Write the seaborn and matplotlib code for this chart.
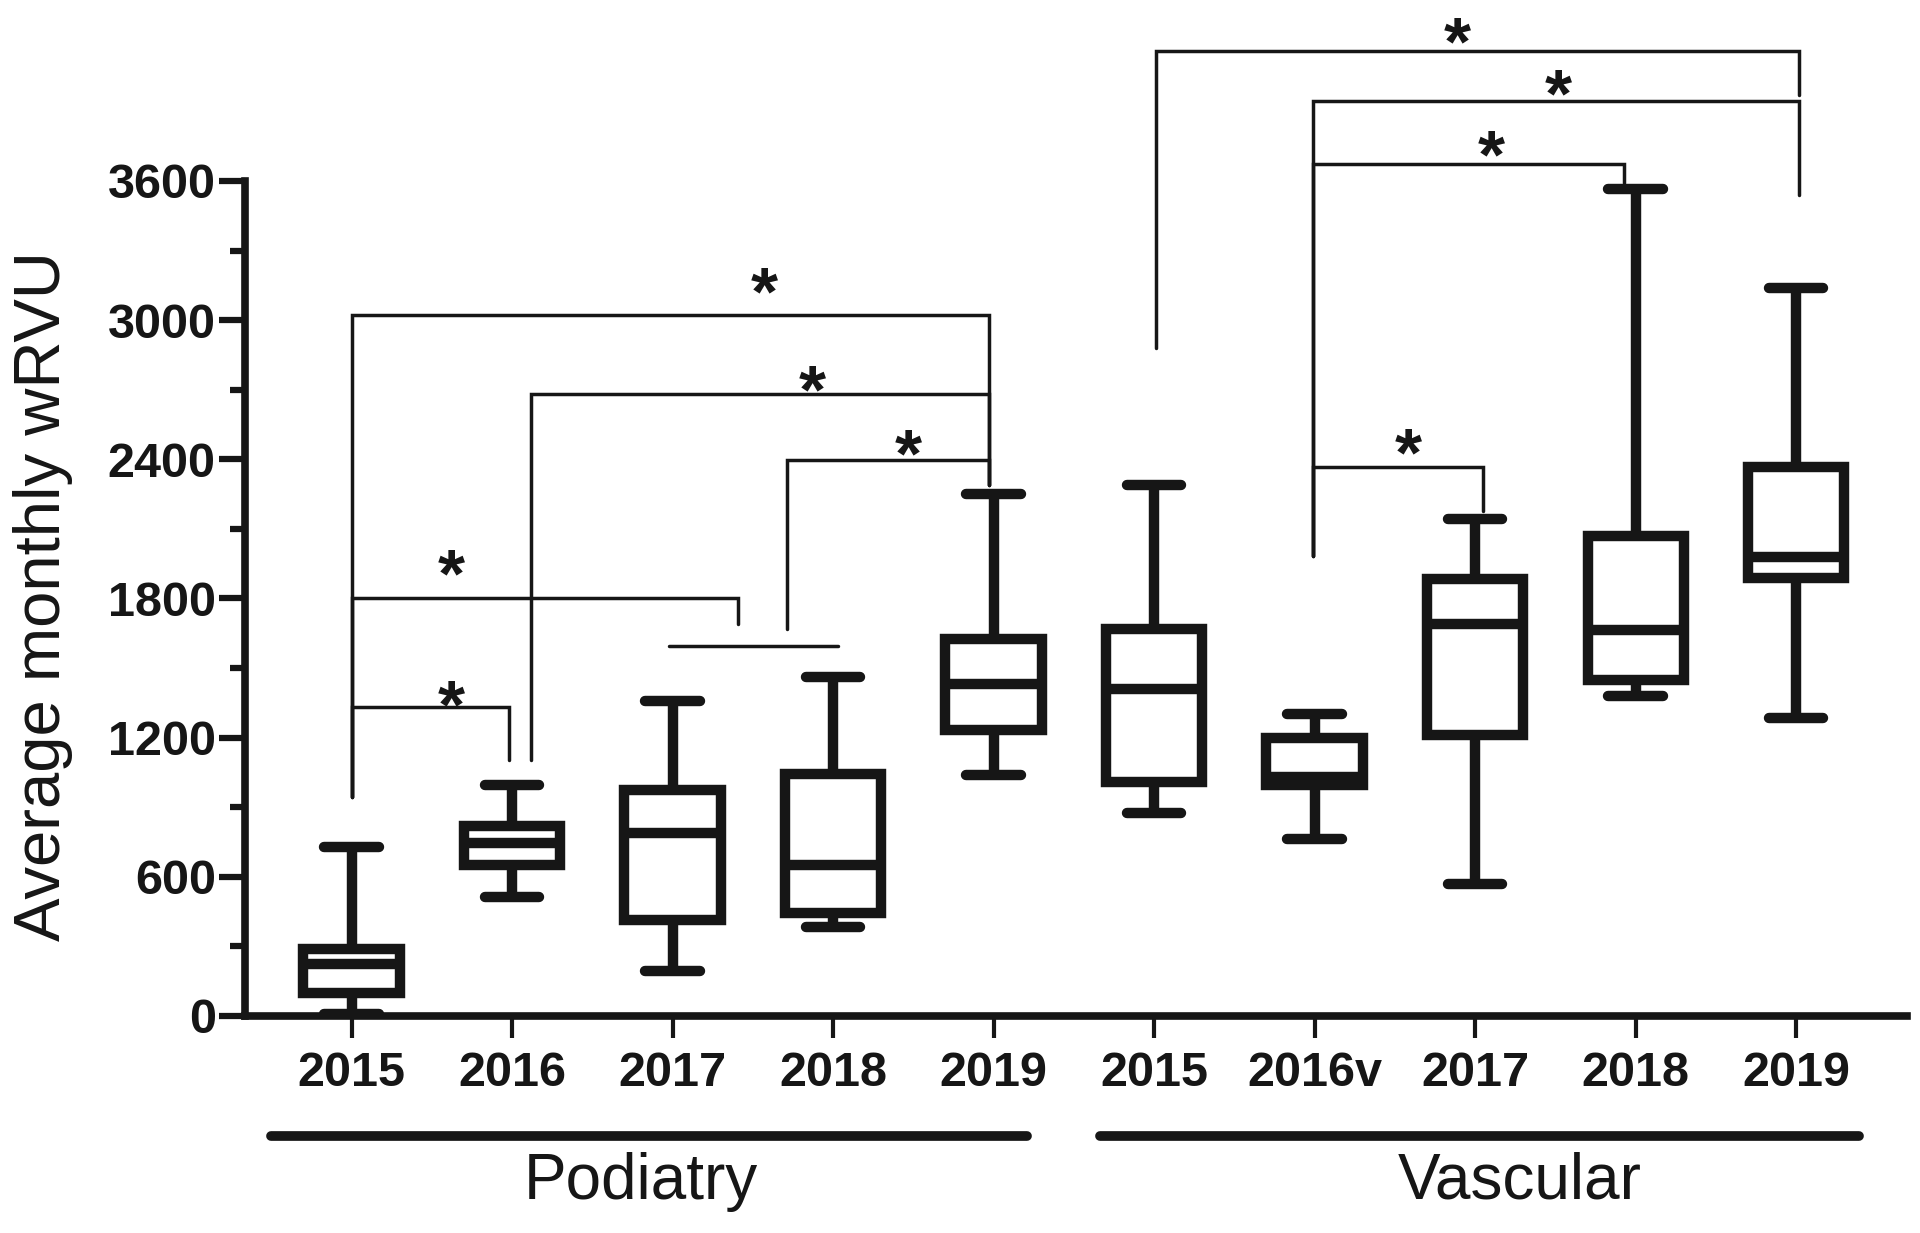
import numpy as np
import pandas as pd
import matplotlib.pyplot as plt
import seaborn as sns
from matplotlib.ticker import FixedLocator

# five-number summaries (min, q1, median, q3, max)
groups = ['P2015', 'P2016', 'P2017', 'P2018', 'P2019',
          'V2015', 'V2016v', 'V2017', 'V2018', 'V2019']
tick_labels = ['2015', '2016', '2017', '2018', '2019',
               '2015', '2016v', '2017', '2018', '2019']
mins = [10, 515, 195, 385, 1040, 875, 763, 570, 1380, 1285]
q1s = [100, 650, 415, 445, 1235, 1010, 994, 1212, 1450, 1888]
medians = [225, 745, 790, 650, 1430, 1408, 1030, 1690, 1665, 1978]
q3s = [290, 820, 975, 1045, 1625, 1670, 1197, 1885, 2070, 2368]
maxs = [730, 995, 1360, 1460, 2250, 2288, 1300, 2141, 3565, 3140]

# significance brackets (category index for x, wRVU for y)
bracket_x0 = [0.0, 0.0, 0.0, 1.12, 2.71, 1.98, 5.01, 5.99, 5.99, 5.99]
bracket_x1 = [0.98, 2.41, 3.97, 3.97, 3.97, 3.03, 9.02, 9.02, 7.93, 7.05]
bracket_top = [1333, 1800, 3020, 2680, 2395, 1596, 4160, 3945, 3673, 2367]
bracket_left_end = [946, 946, 946, 1105, 1670, 1596, 2880, 1985, 1985, 1985]
bracket_right_end = [1105, 1690, 2290, 2290, 2290, 1596, 3970, 3540, 3590, 2175]
star_x = [0.62, 0.62, 2.57, 2.87, 3.47, 6.89, 7.52, 7.10, 6.58]
star_y = [1415, 1980, 3194, 2771, 2497, 4272, 4050, 3785, 2502]

# group bars under the axis
group_names = ['Podiatry', 'Vascular']
group_start = [-0.50, 4.66]
group_end = [4.21, 9.39]
group_label_x = [1.80, 7.28]

rows = []
for g, a, b, c, d, e in zip(groups, mins, q1s, medians, q3s, maxs):
    for v in (a, b, c, d, e):
        rows.append({'group': g, 'value': v})
df = pd.DataFrame(rows)

sns.set_style('ticks')
plt.rcParams['font.family'] = ['Liberation Sans', 'DejaVu Sans']
ink = '#161616'

fig = plt.figure(figsize=(19.2, 12.33), dpi=100)
ax = fig.add_axes([0.1276, 0.176, 0.8656, 0.824])

sns.boxplot(data=df, x='group', y='value', order=groups, ax=ax,
            whis=(0, 100), width=0.6, color='white', linecolor=ink,
            linewidth=7.5, fliersize=0, saturation=1, capwidths=0.34,
            capprops=dict(solid_capstyle='round'))

for x0, x1, top, le, re in zip(bracket_x0, bracket_x1, bracket_top,
                               bracket_left_end, bracket_right_end):
    ax.plot([x0, x0, x1, x1], [le, top, top, re], color=ink, lw=2.5,
            solid_joinstyle='miter', clip_on=False, zorder=1)

star_fs = 50
for sx, sy in zip(star_x, star_y):
    ax.annotate('*', (sx, sy), xytext=(0, -0.57 * star_fs),
                textcoords='offset points', ha='center', va='baseline',
                fontsize=star_fs, fontweight='bold', color=ink,
                annotation_clip=False)

for name, s, e, lx in zip(group_names, group_start, group_end, group_label_x):
    ax.plot([s, e], [-519, -519], color=ink, lw=7, solid_capstyle='round',
            clip_on=False)
    ax.text(lx, -714, name, ha='center', va='center', fontsize=46, color=ink)

ax.set_xlim(-0.664, 9.69)
ax.set_ylim(0, 4380)
ax.yaxis.set_major_locator(FixedLocator(np.arange(0, 3601, 600)))
ax.yaxis.set_minor_locator(FixedLocator(np.arange(300, 3600, 600)))
ax.set_xticks(range(len(groups)))
ax.set_xticklabels(tick_labels)
ax.set_xlabel('')
ax.set_ylabel('')

ax.spines['top'].set_visible(False)
ax.spines['right'].set_visible(False)
ax.spines['left'].set_bounds(0, 3600)
for side in ('left', 'bottom'):
    ax.spines[side].set_linewidth(5.5)
    ax.spines[side].set_color(ink)

ax.tick_params(axis='y', which='major', length=19, width=4.5, pad=2,
               labelsize=35, colors=ink)
ax.tick_params(axis='y', which='minor', length=11, width=4.5, color=ink)
ax.tick_params(axis='x', length=16, width=3, pad=9, labelsize=35, colors=ink)
for lab in ax.get_xticklabels() + ax.get_yticklabels():
    lab.set_fontweight('bold')

fig.text(0.0224, 0.5166, 'Average monthly wRVU', rotation=90, ha='center',
         va='center', fontsize=47, color=ink)

fig.savefig('out.png', dpi=100)
